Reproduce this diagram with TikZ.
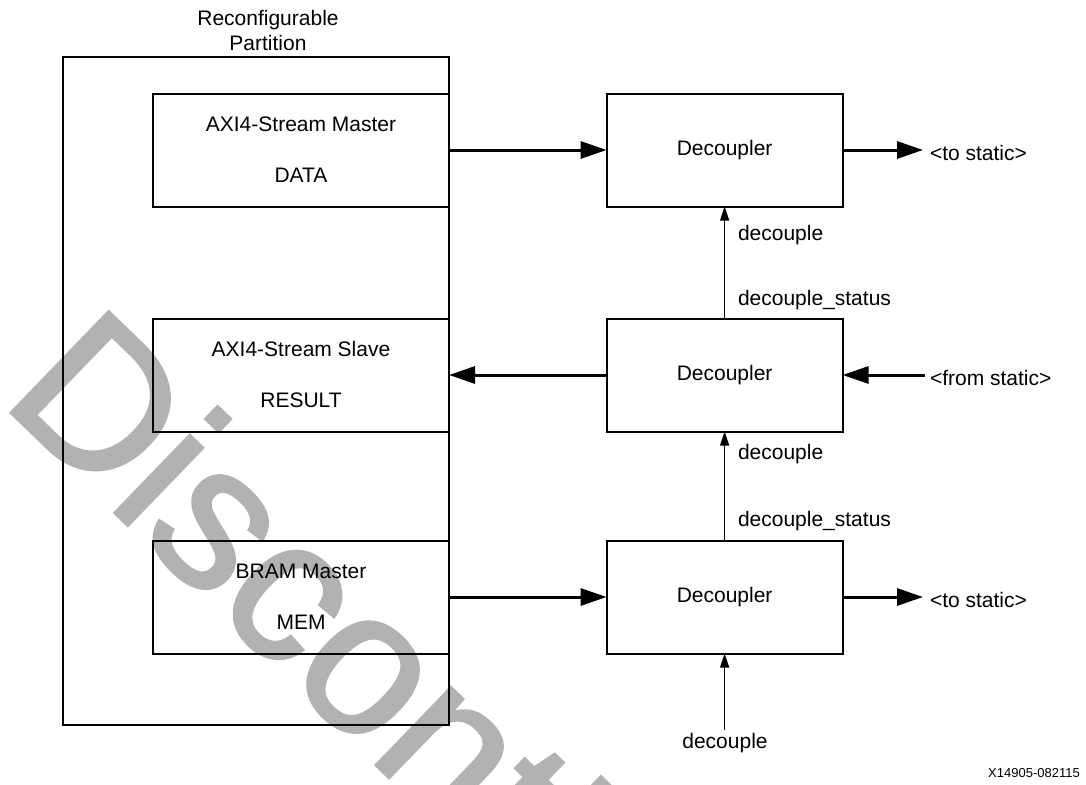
\documentclass[tikz,border=0pt]{standalone}
\usepackage{fontspec}
\setmainfont{Liberation Sans}
\newfontfamily\wmfont[FakeBold=1.5]{Liberation Sans}
\usetikzlibrary{arrows.meta}
\begin{document}
\begin{tikzpicture}[x=1pt,y=-1pt,
  txt/.style={inner sep=0pt, outer sep=0pt, font=\fontsize{21}{25}\selectfont},
  blk/.style={draw, line width=2pt, inner sep=0pt, outer sep=0pt, font=\fontsize{21}{25}\selectfont},
  bus/.style={line width=3pt, -{Triangle[length=26pt,width=17pt]}},
  sig/.style={line width=1.3pt, -{Triangle[length=14pt,width=9pt]}},
]
\useasboundingbox (0,0) rectangle (1086,784);

% watermark behind everything
\begin{scope}
  \clip (0,0) rectangle (1086,784);
  \node[rotate=-44, anchor=base west, inner sep=0pt, text=black!30,
        font=\wmfont\fontsize{204}{204}\selectfont] (wm) at (-1,401) {Discontinued};
\end{scope}

% reconfigurable partition
\node[blk, minimum width=386.5pt, minimum height=667pt] (rp) at (255.75,391) {};
\node[txt, anchor=base] (rpa) at (268,26) {Reconfigurable};
\node[txt, anchor=base] (rpb) at (268,50.7) {Partition};

% interfaces inside the partition
\node[blk, minimum width=296pt, minimum height=113pt] (m) at (301,150) {};
\node[txt, anchor=base] (ma) at (301,131.5) {AXI4-Stream Master};
\node[txt, anchor=base] (mb) at (301,182.5) {DATA};

\node[blk, minimum width=296pt, minimum height=113pt] (s) at (301,375) {};
\node[txt, anchor=base] (sa) at (301,356) {AXI4-Stream Slave};
\node[txt, anchor=base] (sb) at (301,407.5) {RESULT};

\node[blk, minimum width=296pt, minimum height=113pt] (b) at (301,597) {};
\node[txt, anchor=base] (ba) at (301,578) {BRAM Master};
\node[txt, anchor=base] (bb) at (301,629) {MEM};

% decouplers
\node[blk, minimum width=236pt, minimum height=113pt] (d1) at (724.6,150) {Decoupler};
\node[blk, minimum width=236pt, minimum height=113pt] (d2) at (724.6,375) {Decoupler};
\node[blk, minimum width=236pt, minimum height=113pt] (d3) at (724.6,597) {Decoupler};

% data paths
\coordinate (o1) at (923,150);
\coordinate (i2) at (925,375);
\coordinate (o3) at (923,597);
\draw[bus] (m.east) -- (d1.west);
\draw[bus] (d1.east) -- (o1);
\draw[bus] (i2) -- (d2.east);
\draw[bus] (d2.west) -- (s.east);
\draw[bus] (b.east) -- (d3.west);
\draw[bus] (d3.east) -- (o3);
\node[txt, anchor=base west] (o1t) at (930,160) {<to static>};
\node[txt, anchor=base west] (i2t) at (930,385) {<from static>};
\node[txt, anchor=base west] (o3t) at (930,607) {<to static>};

% decouple chain
\coordinate (dc) at (724.6,730);
\draw[sig] (d2.north) -- (d1.south);
\draw[sig] (d3.north) -- (d2.south);
\draw[sig] (dc) -- (d3.south);
\node[txt, anchor=base west] (l1) at (738,240) {decouple};
\node[txt, anchor=base west] (l2) at (738,305) {decouple\_status};
\node[txt, anchor=base west] (l3) at (738,459) {decouple};
\node[txt, anchor=base west] (l4) at (738,526) {decouple\_status};
\node[txt, anchor=base] (l5) at (725,748) {decouple};

% figure id
\node[inner sep=0pt, font=\fontsize{13}{15}\selectfont, anchor=base] (fid) at (1034,777) {X14905-082115};
\end{tikzpicture}
\end{document}
